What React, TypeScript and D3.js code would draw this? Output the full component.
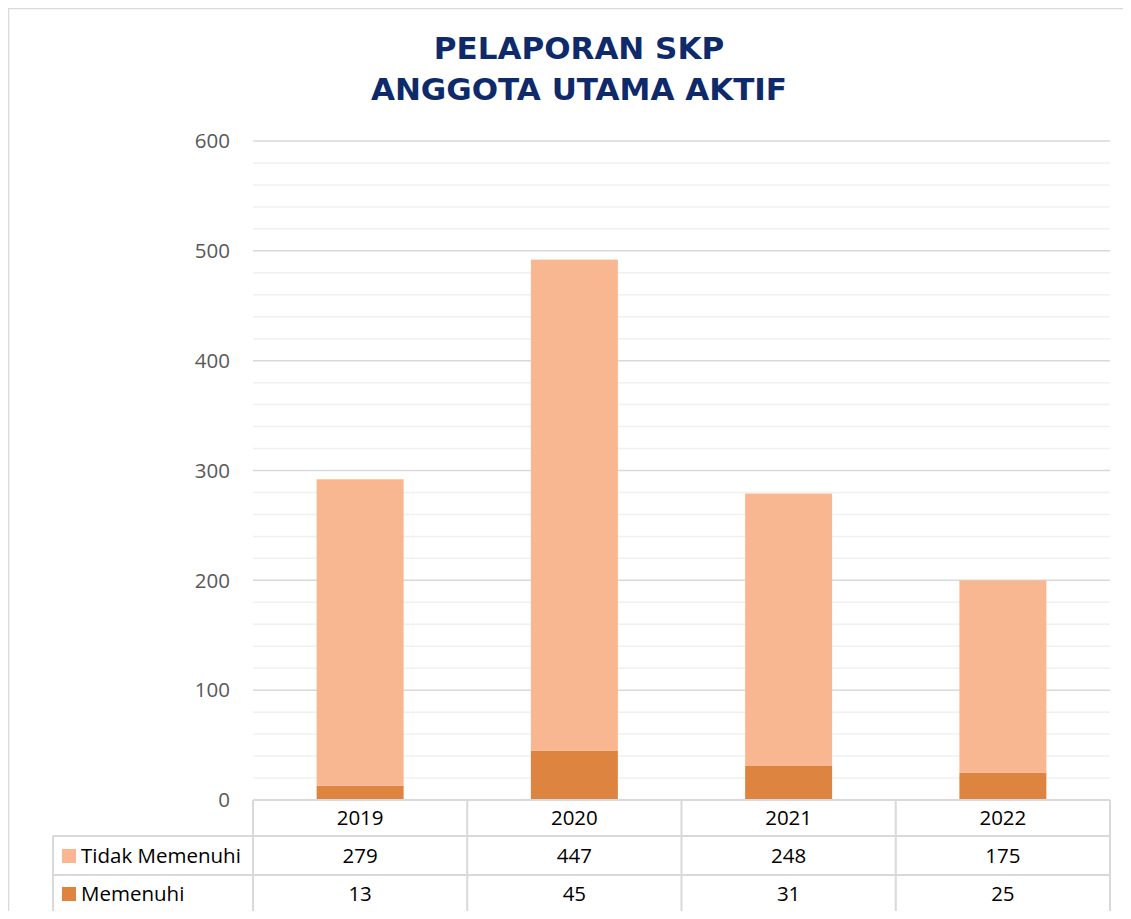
import { useEffect, useRef } from "react"
import * as d3 from 'd3'

const years = ["2019", "2020", "2021", "2022"]
const tidakMemenuhi = [279, 447, 248, 175]
const memenuhi = [13, 45, 31, 25]
const seriesNames = ["Tidak Memenuhi", "Memenuhi"]
const seriesColors = ["#F8B790", "#DC8440"]
const yTicks = [0, 100, 200, 300, 400, 500, 600]

export default function App() {
  const svgRef = useRef<SVGSVGElement>(null)

  useEffect(() => {
    d3.select(svgRef.current).selectAll('*').remove()
    if (!svgRef.current) return
    const svg = d3.select(svgRef.current)
    const font = "'Open Sans', 'Noto Sans', sans-serif"
    const plot = { left: 253, right: 1110, top: 141, bottom: 800 }

    // outer frame
    svg.append("rect")
      .attr("x", 8.5).attr("y", 8.5)
      .attr("width", 1140).attr("height", 930)
      .attr("fill", "#fff").attr("stroke", "#d9d9d9").attr("stroke-width", 1.5)

    const x = d3.scaleBand().domain(years).range([plot.left, plot.right]).paddingInner(0).paddingOuter(0)
    const y = d3.scaleLinear().domain([0, 600]).range([plot.bottom, plot.top])

    // minor grid
    const minor = d3.range(0, 601, 20).filter(v => v % 100 !== 0)
    svg.append("g").selectAll("line").data(minor).join("line")
      .attr("x1", plot.left).attr("x2", plot.right)
      .attr("y1", d => y(d)).attr("y2", d => y(d))
      .attr("stroke", "#f0f0f0").attr("stroke-width", 1.5)

    // major grid
    svg.append("g").selectAll("line").data(yTicks.filter(v => v > 0)).join("line")
      .attr("x1", plot.left).attr("x2", plot.right)
      .attr("y1", d => y(d)).attr("y2", d => y(d))
      .attr("stroke", "#d9d9d9").attr("stroke-width", 1.5)

    svg.append("g").selectAll("text").data(yTicks).join("text")
      .attr("x", 230).attr("y", d => y(d)).attr("dy", "0.35em")
      .attr("text-anchor", "end")
      .attr("font-family", font).attr("font-size", 20.5).attr("fill", "#595959")
      .text(d => d)

    // stacked bars
    const rows = years.map((yr, i) => ({ year: yr, tidak: tidakMemenuhi[i], memenuhi: memenuhi[i] }))
    const stack = d3.stack<any>().keys(["memenuhi", "tidak"])(rows)
    const colorOf: Record<string, string> = { memenuhi: seriesColors[1], tidak: seriesColors[0] }
    const barW = x.bandwidth() * 0.406
    stack.forEach(layer => {
      svg.append("g").selectAll("rect").data(layer).join("rect")
        .attr("x", d => (x(d.data.year) as number) + (x.bandwidth() - barW) / 2)
        .attr("width", barW)
        .attr("y", d => y(d[1]))
        .attr("height", d => y(d[0]) - y(d[1]))
        .attr("fill", colorOf[layer.key])
    })

    // data table
    const rowY = [800, 836, 875, 912]
    const tableLeft = 53
    const grid = svg.append("g").attr("stroke", "#d9d9d9").attr("stroke-width", 2).attr("fill", "none")
    grid.append("line").attr("x1", plot.left).attr("x2", plot.right).attr("y1", rowY[0]).attr("y2", rowY[0])
    rowY.slice(1).forEach(ry => {
      grid.append("line").attr("x1", tableLeft).attr("x2", plot.right).attr("y1", ry).attr("y2", ry)
    })
    const cols = years.map(yr => x(yr) as number).concat([plot.right])
    cols.forEach(cx => {
      grid.append("line").attr("x1", cx).attr("x2", cx).attr("y1", rowY[0]).attr("y2", rowY[3])
    })
    grid.append("line").attr("x1", tableLeft).attr("x2", tableLeft).attr("y1", rowY[1]).attr("y2", rowY[3])

    const cellText = (txt: string | number, cx: number, cy: number) =>
      svg.append("text").attr("x", cx).attr("y", cy).attr("dy", "0.35em")
        .attr("text-anchor", "middle")
        .attr("font-family", font).attr("font-size", 20.5).attr("fill", "#000")
        .text(txt)

    years.forEach(yr => {
      const cx = (x(yr) as number) + x.bandwidth() / 2
      cellText(yr, cx, (rowY[0] + rowY[1]) / 2)
    })
    const seriesVals = [tidakMemenuhi, memenuhi]
    seriesVals.forEach((vals, si) => {
      const cy = (rowY[si + 1] + rowY[si + 2]) / 2
      years.forEach((yr, i) => {
        cellText(vals[i], (x(yr) as number) + x.bandwidth() / 2, cy)
      })
      svg.append("rect")
        .attr("x", 62).attr("y", cy - 6.5).attr("width", 14).attr("height", 14)
        .attr("fill", seriesColors[si])
      svg.append("text").attr("x", 81).attr("y", cy).attr("dy", "0.35em")
        .attr("font-family", font).attr("font-size", 20.5).attr("fill", "#000")
        .text(seriesNames[si])
    })

    // title
    const title = svg.append("text")
      .attr("text-anchor", "middle")
      .attr("font-family", "'DejaVu Sans', sans-serif")
      .attr("font-weight", 700).attr("font-size", 31).attr("fill", "#0E2A6A")
    title.append("tspan").attr("x", 579).attr("y", 59).text("PELAPORAN SKP")
    title.append("tspan").attr("x", 579).attr("y", 100).text("ANGGOTA UTAMA AKTIF")
  }, [])

  return (
    <div style={{ margin: -8 }}>
      <svg ref={svgRef} width="1131" height="919" style={{ display: "block" }}></svg>
    </div>
  )
}
